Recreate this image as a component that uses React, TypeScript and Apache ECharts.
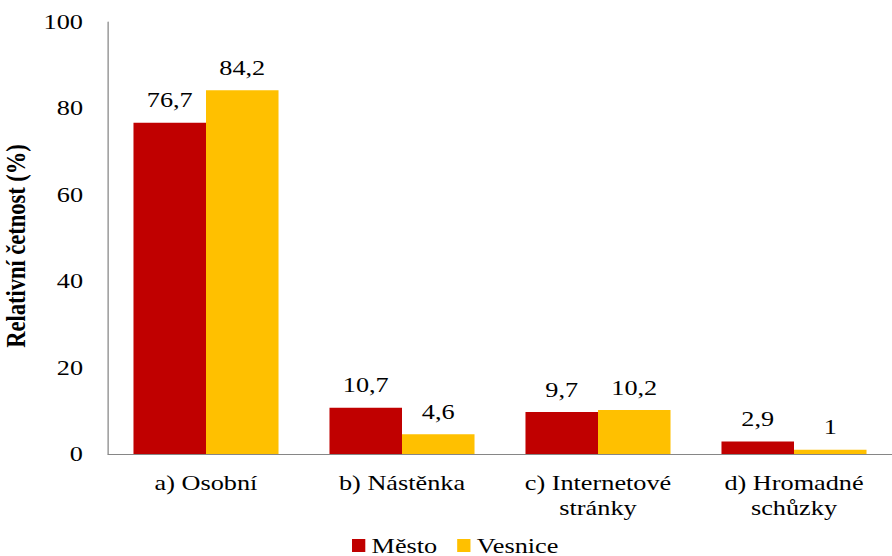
import React, { useEffect, useRef } from "react";
import * as echarts from "echarts";

const categories = ["a) Osobní", "b) Nástěnka", "c) Internetové\nstránky", "d) Hromadné\nschůzky"];
const mestoValues = [76.7, 10.7, 9.7, 2.9];
const vesniceValues = [84.2, 4.6, 10.2, 1];
const yTicks = { min: 0, max: 100, interval: 20 };

const FONT = "Liberation Serif";
const SX = 1.25; // the reference's text is horizontally stretched
const W = 892 / SX;
const H = 556;

export default function App() {
  const ref = useRef<HTMLDivElement>(null);
  useEffect(() => {
    if (!ref.current) return;
    const chart = echarts.init(ref.current, undefined, { renderer: "svg", width: W, height: H });
    const fmt = (p: any) => String(p.value).replace(".", ",");
    chart.setOption({
      animation: false,
      textStyle: { fontFamily: FONT },
      grid: { left: 108 / SX, right: 0, top: 22, bottom: 102, containLabel: false, outerBoundsMode: "none" },
      legend: {
        top: 535,
        left: 352 / SX,
        padding: 0,
        itemWidth: 13.3 / SX,
        itemHeight: 13,
        itemGap: 16,
        itemStyle: { borderWidth: 0 },
        icon: "rect",
        textStyle: { fontFamily: FONT, fontSize: 21, lineHeight: 20, color: "#000", padding: [0, 0, 0, 0] },
        data: ["Město", "Vesnice"],
      },
      xAxis: {
        type: "category",
        data: categories,
        axisLine: { lineStyle: { color: "#868686", width: 1 } },
        axisTick: { show: false },
        axisLabel: { fontFamily: FONT, fontSize: 21, color: "#000", margin: 16, lineHeight: 25, interval: 0 },
      },
      yAxis: {
        type: "value",
        min: yTicks.min,
        max: yTicks.max,
        interval: yTicks.interval,
        name: "Relativní četnost (%)",
        nameLocation: "middle",
        nameGap: 60,
        nameRotate: 90,
        nameTextStyle: { fontFamily: FONT, fontSize: 22.5, fontWeight: "bold", color: "#000", padding: [0, 16, 0, 0] },
        axisLine: { show: true, lineStyle: { color: "#868686", width: 1 } },
        axisTick: { show: false },
        splitLine: { show: false },
        axisLabel: { fontFamily: FONT, fontSize: 21, color: "#000", margin: 20 },
      },
      series: [
        {
          name: "Město",
          type: "bar",
          data: mestoValues,
          itemStyle: { color: "#C00000" },
          barGap: "0%",
          barCategoryGap: "26%",
          label: { show: true, position: "top", distance: 12, formatter: fmt, fontFamily: FONT, fontSize: 21, color: "#000" },
        },
        {
          name: "Vesnice",
          type: "bar",
          data: vesniceValues,
          itemStyle: { color: "#FFC000" },
          barGap: "0%",
          barCategoryGap: "26%",
          label: { show: true, position: "top", distance: 12, formatter: fmt, fontFamily: FONT, fontSize: 21, color: "#000" },
        },
      ],
    });
    return () => chart.dispose();
  }, []);
  return (
    <div style={{ position: "absolute", left: 0, top: 0, width: 892, height: H, overflow: "hidden" }}>
      <div
        ref={ref}
        style={{ width: W, height: H, transform: `scaleX(${SX})`, transformOrigin: "0 0" }}
      />
    </div>
  );
}
